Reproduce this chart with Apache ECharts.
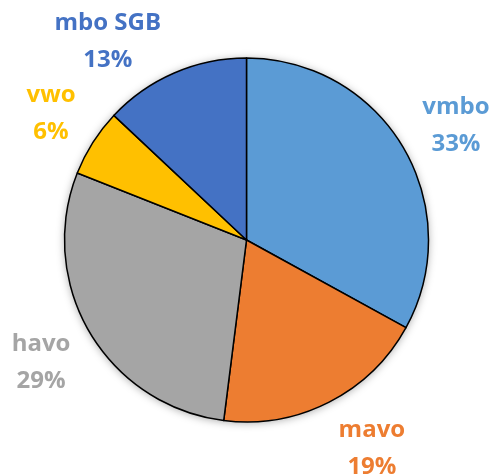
<!DOCTYPE html>
<html>
<head>
<meta charset="utf-8">
<script src="https://cdn.jsdelivr.net/npm/echarts@6/dist/echarts.min.js"></script>
<style>
  html, body { margin: 0; padding: 0; background: #fff; }
  #schoolPie { width: 492px; height: 475px; }
</style>
</head>
<body>
<div id="schoolPie"></div>
<script>
// onderwijsniveau verdeling
const levels = ['vmbo', 'mavo', 'havo', 'vwo', 'mbo SGB'];
const shares = [33, 19, 29, 6, 13];
const levelColors = ['#5B9BD5', '#ED7D31', '#A5A5A5', '#FFC000', '#4472C4'];

let schoolPie = echarts.init(document.getElementById('schoolPie'));

// kleine verschuivingen van de labels, zoals Excel ze plaatst
const labelNudge = [[2, 8], [16, -6], [2, 0], [8, 3], [-43, 23]];

let pieData = [];
let labelData = [];
let total = 0;
for (let i = 0; i < levels.length; i++) {
    total += shares[i];
    pieData.push({
        name: levels[i],
        value: shares[i],
        itemStyle: { color: levelColors[i] }
    });
    labelData.push({
        name: levels[i],
        value: shares[i],
        label: { color: levelColors[i] }
    });
}

const center = [246.5, 240];

const option = {
    animation: false,
    series: [
        {
            // schaduw onder de hele taart
            name: 'schaduw',
            type: 'pie',
            center: center,
            radius: [0, 182],
            silent: true,
            z: 1,
            label: { show: false },
            labelLine: { show: false },
            itemStyle: {
                color: '#fff',
                shadowColor: 'rgba(0,0,0,0.35)',
                shadowBlur: 9,
                shadowOffsetY: 1
            },
            data: [{ name: 'totaal', value: total }]
        },
        {
            name: 'niveau',
            type: 'pie',
            center: center,
            radius: [0, 182],
            startAngle: 90,
            clockwise: true,
            silent: true,
            z: 2,
            label: { show: false },
            labelLine: { show: false },
            itemStyle: {
                borderColor: '#000',
                borderWidth: 1.5
            },
            data: pieData
        },
        {
            // onzichtbare ring alleen voor de labels
            name: 'labels',
            type: 'pie',
            center: center,
            radius: [182, 294],
            startAngle: 90,
            clockwise: true,
            silent: true,
            z: 3,
            avoidLabelOverlap: false,
            itemStyle: { color: 'transparent' },
            label: {
                show: true,
                position: 'inside',
                formatter: '{b}\n{d}%',
                fontFamily: 'Open Sans',
                fontWeight: 'bold',
                fontSize: 24,
                lineHeight: 37
            },
            labelLine: { show: false },
            labelLayout: function (params) {
                let n = labelNudge[params.dataIndex];
                return { dx: n[0], dy: n[1], hideOverlap: false };
            },
            data: labelData
        }
    ]
};

schoolPie.setOption(option);
</script>
</body>
</html>
